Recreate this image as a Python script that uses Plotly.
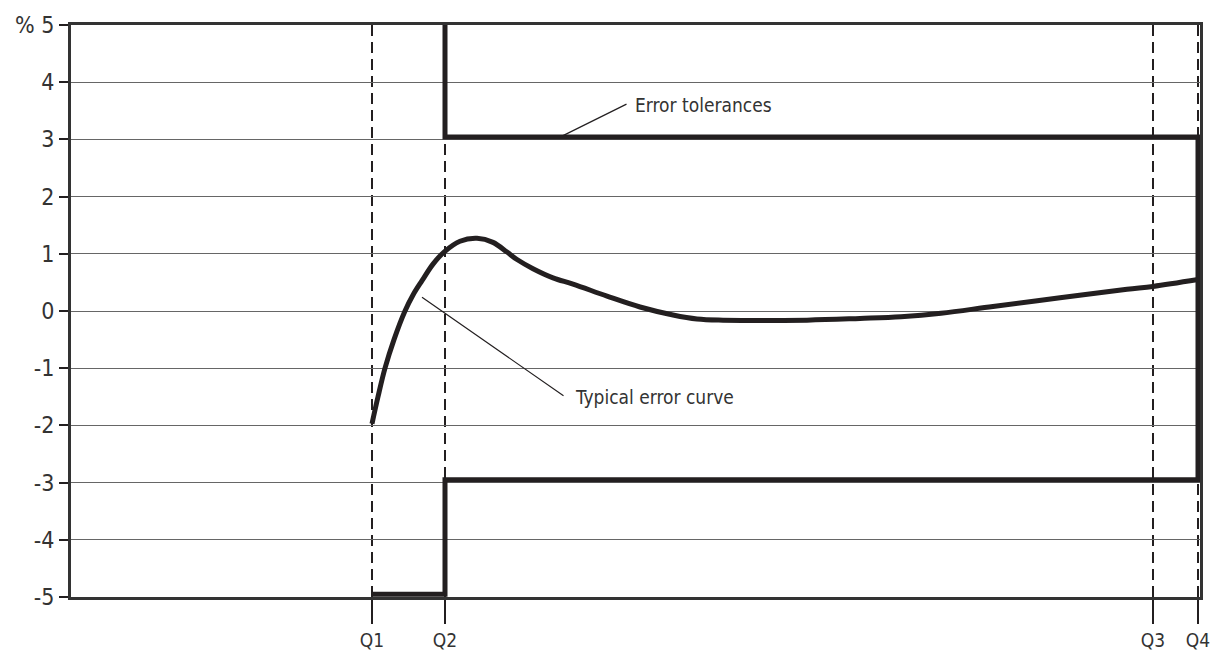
import plotly.graph_objects as go

# Flow points (x positions in arbitrary flow units)
q_labels = ["Q1", "Q2", "Q3", "Q4"]
q_pos = [301, 374, 1082, 1127]

# Y axis ticks
y_ticks = [5, 4, 3, 2, 1, 0, -1, -2, -3, -4, -5]
y_ticklabels = ["% 5", "4", "3", "2", "1", "0", "-1", "-2", "-3", "-4", "-5"]

# Typical error curve
curve_x = [301, 307, 314, 323, 334, 342, 351, 362, 373, 389, 406, 422, 436, 446,
           462, 482, 502, 536, 569, 602, 626, 652, 736, 789, 830, 870, 922, 989,
           1056, 1082, 1127]
curve_y = [-1.97, -1.5, -1.0, -0.5, 0.0, 0.28, 0.53, 0.82, 1.03, 1.22, 1.27, 1.20,
           1.03, 0.90, 0.74, 0.58, 0.47, 0.26, 0.07, -0.07, -0.14, -0.16, -0.16,
           -0.13, -0.10, -0.04, 0.08, 0.23, 0.38, 0.43, 0.55]

# Error tolerance envelope
tol_x = [374, 374, 1127, 1127, 374, 374, 301]
tol_y = [5, 3.04, 3.04, -2.95, -2.95, -4.95, -4.95]

FONT = "DejaVu Sans Condensed, Liberation Sans Narrow, Roboto, sans-serif"
INK = "#231f20"

fig = go.Figure()

fig.add_trace(go.Scatter(x=tol_x, y=tol_y, mode="lines",
                         line=dict(color=INK, width=5), hoverinfo="skip"))
fig.add_trace(go.Scatter(x=curve_x, y=curve_y, mode="lines",
                         line=dict(color=INK, width=5, shape="spline", smoothing=1.0),
                         hoverinfo="skip"))

# Dashed verticals at Q points
for q in q_pos:
    fig.add_shape(type="line", x0=q, x1=q, y0=-5, y1=5, xref="x", yref="y",
                  line=dict(color=INK, width=2, dash="11px,6px"), layer="below")

# Leader lines and labels
fig.add_annotation(x=489, y=3.04, ax=557, ay=3.63, xref="x", yref="y",
                   axref="x", ayref="y", showarrow=True, arrowhead=0,
                   arrowwidth=1.2, arrowcolor=INK, text="")
fig.add_annotation(x=562, y=3.6, xref="x", yref="y", text="Error tolerances",
                   showarrow=False, xanchor="left", yanchor="middle",
                   font=dict(family=FONT, size=19, color="#333"))
fig.add_annotation(x=351, y=0.24, ax=494, ay=-1.5, xref="x", yref="y",
                   axref="x", ayref="y", showarrow=True, arrowhead=0,
                   arrowwidth=1.2, arrowcolor=INK, text="")
fig.add_annotation(x=502, y=-1.51, xref="x", yref="y", text="Typical error curve",
                   showarrow=False, xanchor="left", yanchor="middle",
                   font=dict(family=FONT, size=19, color="#333"))

fig.update_layout(
    width=1210, height=645,
    margin=dict(l=63, r=18, t=17, b=56),
    paper_bgcolor="white", plot_bgcolor="white",
    showlegend=False,
    font=dict(family=FONT, size=20, color="#333"),
    xaxis=dict(range=[0, 1129], showgrid=False, zeroline=False, automargin=False,
               tickmode="array", tickvals=q_pos, ticktext=q_labels,
               ticks="outside", ticklen=24, tickwidth=1.5, tickcolor=INK,
               showline=True, mirror=True, linewidth=3, linecolor="#333",
               tickfont=dict(family=FONT, size=19, color="#333")),
    yaxis=dict(range=[-5, 5], showgrid=True, gridcolor="#666", gridwidth=1.2,
               zeroline=False, automargin=False, tickmode="array", tickvals=y_ticks,
               ticktext=y_ticklabels, ticks="outside", ticklen=9, tickwidth=1.5,
               tickcolor=INK, showline=True, mirror=True, linewidth=3,
               linecolor="#333", tickfont=dict(family=FONT, size=23, color="#333")),
)

fig.write_html("out.html")
